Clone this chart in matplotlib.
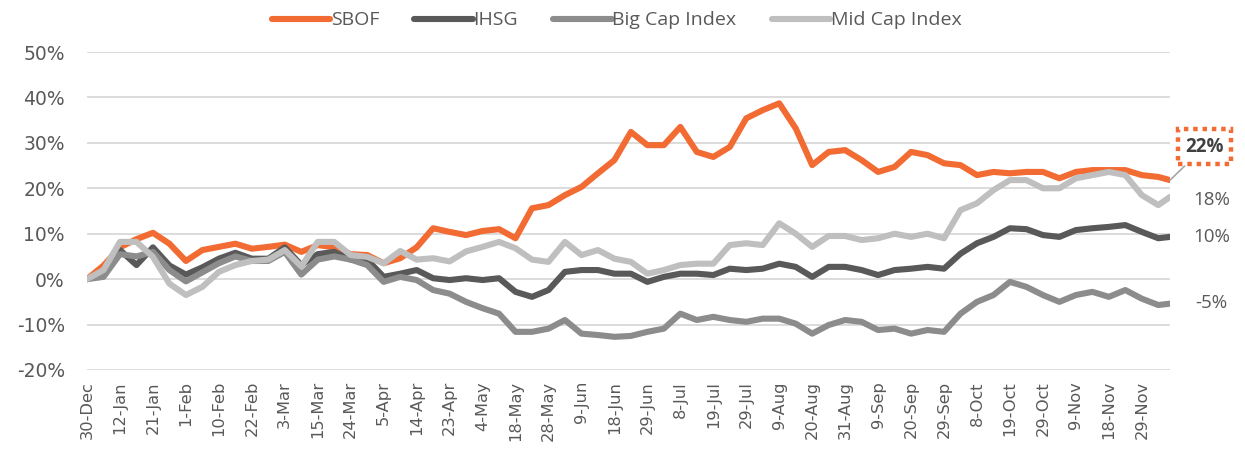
import numpy as np
import matplotlib.pyplot as plt

# tick labels, every 7 trading days
tick_labels = ['30-Dec', '12-Jan', '21-Jan', '1-Feb', '10-Feb', '22-Feb', '3-Mar',
               '15-Mar', '24-Mar', '5-Apr', '14-Apr', '23-Apr', '4-May', '18-May',
               '28-May', '9-Jun', '18-Jun', '29-Jun', '8-Jul', '19-Jul', '29-Jul',
               '9-Aug', '20-Aug', '31-Aug', '9-Sep', '20-Sep', '29-Sep', '8-Oct',
               '19-Oct', '29-Oct', '9-Nov', '18-Nov', '29-Nov']

# readings every 3.5 trading days (%), last one is the final day
sbof = [0, 3.0, 7.0, 8.8, 10.2, 7.8, 4.0, 6.4, 7.1, 7.8, 6.7, 7.1, 7.6, 6.0, 7.5,
        7.0, 5.5, 5.3, 3.5, 4.6, 7.0, 11.2, 10.4, 9.7, 10.6, 11.0, 9.0, 15.6, 16.3,
        18.5, 20.3, 23.3, 26.2, 32.4, 29.5, 29.5, 33.5, 28.0, 26.9, 29.1, 35.4, 37.2,
        38.7, 33.2, 25.1, 28.0, 28.4, 26.2, 23.6, 24.7, 28.0, 27.3, 25.5, 25.1, 22.9,
        23.6, 23.3, 23.6, 23.6, 22.2, 23.6, 24.0, 24.0, 24.0, 22.9, 22.5, 21.8]
ihsg = [0, 1.0, 6.4, 3.1, 7.0, 3.0, 1.0, 2.6, 4.5, 5.8, 4.5, 4.5, 7.0, 3.1, 5.5,
        6.0, 4.3, 4.3, 0.5, 1.2, 2.0, 0.2, -0.2, 0.2, -0.2, 0.2, -2.8, -3.9, -2.4,
        1.6, 2.0, 2.0, 1.2, 1.2, -0.6, 0.5, 1.2, 1.2, 0.9, 2.3, 2.0, 2.3, 3.4, 2.7,
        0.5, 2.7, 2.7, 2.0, 0.9, 2.0, 2.3, 2.7, 2.3, 5.6, 7.9, 9.3, 11.2, 11.0, 9.7,
        9.3, 10.8, 11.2, 11.5, 11.9, 10.4, 9.0, 9.3]
bigcap = [0, 0.5, 5.5, 5.0, 6.0, 2.0, -0.5, 1.5, 3.5, 5.0, 4.0, 4.0, 6.0, 1.0, 4.3,
          5.0, 4.3, 3.1, -0.6, 0.5, -0.2, -2.4, -3.2, -5.0, -6.4, -7.6, -11.6, -11.6,
          -10.9, -9.0, -12.0, -12.3, -12.7, -12.5, -11.6, -10.9, -7.6, -9.0, -8.3,
          -9.0, -9.4, -8.7, -8.7, -9.8, -12.0, -10.1, -9.0, -9.4, -11.2, -10.9, -12.0,
          -11.2, -11.6, -7.6, -5.0, -3.5, -0.6, -1.7, -3.5, -5.0, -3.5, -2.8, -3.9,
          -2.4, -4.3, -5.7, -5.4]
midcap = [0, 2.0, 8.2, 8.2, 4.9, -1.0, -3.5, -1.7, 1.6, 3.1, 4.0, 4.3, 6.4, 2.8, 8.2,
          8.2, 5.3, 4.9, 3.5, 6.2, 4.3, 4.6, 3.9, 6.1, 7.1, 8.2, 6.8, 4.3, 3.8, 8.2,
          5.3, 6.4, 4.5, 3.8, 1.2, 2.0, 3.1, 3.4, 3.4, 7.5, 7.9, 7.5, 12.3, 10.0, 7.1,
          9.5, 9.5, 8.6, 9.0, 10.0, 9.3, 10.0, 9.0, 15.2, 16.7, 19.6, 21.8, 21.8, 20.0,
          20.0, 22.2, 22.9, 23.6, 22.9, 18.5, 16.3, 18.1]

n_days = 231
xs = list(np.arange(66) * 3.5) + [n_days - 1]

fig = plt.figure(figsize=(12.45, 4.57), dpi=100)
ax = fig.add_axes([0.0699, 0.1904, 0.8699, 0.6958])
plt.rcParams['font.family'] = ['Open Sans', 'DejaVu Sans']

txt = '#595959'
lw = 4.4
ax.plot(xs, sbof, color='#F26B32', lw=lw, label='SBOF', solid_capstyle='round')
ax.plot(xs, ihsg, color='#595959', lw=lw, label='IHSG', solid_capstyle='round')
ax.plot(xs, bigcap, color='#8C8C8C', lw=lw, label='Big Cap Index', solid_capstyle='round')
ax.plot(xs, midcap, color='#BFBFBF', lw=lw, label='Mid Cap Index', solid_capstyle='round')

ax.set_xlim(0, n_days - 1)
ax.set_ylim(-20, 50)
ax.set_yticks(range(-20, 51, 10))
ax.set_yticklabels(['%d%%' % v for v in range(-20, 51, 10)], fontsize=13.5, color=txt)
ax.set_xticks(np.arange(len(tick_labels)) * 7)
ax.set_xticklabels(tick_labels, rotation=90, fontsize=11.7, color=txt)
ax.tick_params(axis='y', length=0, pad=16)
ax.tick_params(axis='x', length=0, pad=8)
ax.grid(axis='y', color='#D9D9D9', lw=1.3)
ax.set_axisbelow(True)
for s in ax.spines.values():
    s.set_visible(False)

leg = ax.legend(loc='lower center', bbox_to_anchor=(0.489, 1.016), ncol=4, frameon=False,
                handlelength=3.0, handletextpad=0.05, columnspacing=1.8,
                prop={'size': 14})
for t in leg.get_texts():
    t.set_color(txt)

# end labels
ax.annotate('22%', xy=(n_days - 1, sbof[-1]), xytext=(237.3, 29.1), ha='center',
            va='center', fontsize=13.5, fontweight='bold', color='#404040',
            annotation_clip=False,
            bbox=dict(boxstyle='square,pad=0.4', fc='white', ec='#F26B32', lw=3.2,
                      ls=(0, (1, 1.1))),
            arrowprops=dict(arrowstyle='-', color='#A6A6A6', lw=1.2,
                            shrinkA=0, shrinkB=0))
for val, lab in [(17.4, '18%'), (9.25, '10%'), (-5.3, '-5%')]:
    ax.text(238.8, val, lab, ha='center', va='center', fontsize=13.5, color=txt,
            clip_on=False)

plt.savefig('out.png', dpi=100)
